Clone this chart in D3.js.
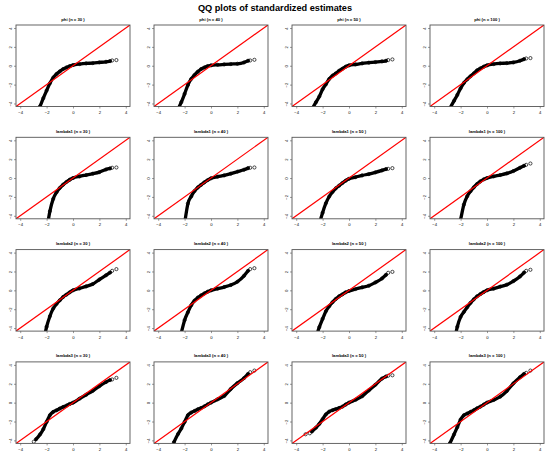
<!DOCTYPE html>
<html>
<head>
<meta charset="utf-8">
<script src="https://cdn.jsdelivr.net/npm/d3@7"></script>
<style>
  body { margin: 0; background: #fff; }
  text { font-family: "Liberation Sans", Arial, sans-serif; }
</style>
</head>
<body>
<div id="chart"></div>
<script>
// Canvas
let w = 550,
    h = 461;

// Panel grid
const params = ["phi", "lambda1", "lambda2", "lambda3"];
const sizes = [30, 40, 50, 100];
const ticks = [-4, -2, 0, 2, 4];

// Theoretical quantiles (x), shared by all panels
const theoQ = [-3.29, -2.97, -2.81, -2.5, -2.25, -2.0, -1.75, -1.5, -1.25, -1.0, -0.75,
               -0.5, -0.25, 0, 0.5, 1.0, 1.5, 2.0, 2.5, 2.81, 2.97, 3.29];

// Sample quantiles (y)
const phi30  = [-7.0, -5.9, -5.3, -4.3, -3.44, -2.63, -1.86, -1.26, -0.88, -0.6, -0.35, -0.18, -0.04, 0.07, 0.18, 0.25, 0.28, 0.35, 0.42, 0.49, 0.56, 0.6];
const phi40  = [-7.0, -6.0, -5.4, -4.6, -3.86, -2.98, -2.04, -1.4, -0.98, -0.63, -0.35, -0.18, -0.04, 0.04, 0.1, 0.14, 0.18, 0.21, 0.35, 0.53, 0.56, 0.63];
const phi50  = [-6.0, -5.2, -4.6, -3.86, -3.26, -2.49, -1.96, -1.4, -1.05, -0.81, -0.53, -0.32, -0.1, 0.04, 0.14, 0.25, 0.32, 0.39, 0.46, 0.53, 0.6, 0.67];
const phi100 = [-6.0, -5.1, -4.5, -3.72, -3.09, -2.39, -1.82, -1.44, -1.12, -0.81, -0.49, -0.28, -0.1, 0.04, 0.18, 0.25, 0.28, 0.35, 0.53, 0.7, 0.77, 0.81];

const lambda1_30  = [-12, -11, -10, -8.5, -7, -5.5, -3.51, -2.21, -1.51, -1.05, -0.7, -0.42, -0.18, 0, 0.18, 0.32, 0.46, 0.63, 0.91, 1.02, 1.09, 1.12];
const lambda1_40  = [-12, -11, -10, -8.5, -7, -4.8, -2.7, -1.95, -1.38, -1.0, -0.72, -0.45, -0.22, -0.03, 0.14, 0.28, 0.46, 0.67, 0.88, 1.05, 1.09, 1.12];
const lambda1_50  = [-11, -10, -9, -7.5, -5.0, -3.68, -2.67, -1.96, -1.47, -1.09, -0.81, -0.53, -0.28, -0.08, 0.1, 0.28, 0.42, 0.6, 0.81, 0.95, 0.98, 1.05];
const lambda1_100 = [-11, -10, -9, -7.5, -6.0, -4.4, -2.81, -1.93, -1.4, -0.98, -0.63, -0.35, -0.14, 0, 0.18, 0.32, 0.49, 0.74, 1.09, 1.3, 1.4, 1.54];

const lambda2_30  = [-10, -9, -8, -7, -5.5, -3.86, -2.74, -1.93, -1.44, -1.05, -0.7, -0.46, -0.21, 0, 0.21, 0.42, 0.67, 1.15, 1.6, 1.89, 2.07, 2.25];
const lambda2_40  = [-9, -8, -7, -6, -4.5, -3.16, -2.32, -1.58, -1.09, -0.77, -0.53, -0.32, -0.14, 0, 0.18, 0.35, 0.56, 0.91, 1.54, 2.07, 2.25, 2.35];
const lambda2_50  = [-9, -8, -7, -5.0, -3.9, -3.02, -2.21, -1.68, -1.26, -0.91, -0.63, -0.42, -0.21, -0.07, 0.14, 0.32, 0.49, 0.84, 1.26, 1.65, 1.86, 1.96];
const lambda2_100 = [-9, -8, -7, -5.5, -3.86, -2.81, -2.28, -1.79, -1.33, -0.95, -0.63, -0.39, -0.18, 0, 0.18, 0.39, 0.6, 0.98, 1.47, 1.89, 2.07, 2.18];

const lambda3_30  = [-5.0, -4.14, -3.89, -3.37, -2.81, -2.04, -1.33, -0.98, -0.81, -0.63, -0.46, -0.32, -0.14, 0, 0.42, 0.84, 1.26, 1.75, 2.18, 2.39, 2.46, 2.63];
const lambda3_40  = [-5.0, -4.6, -4.2, -3.33, -2.74, -2.04, -1.33, -1.05, -0.88, -0.7, -0.56, -0.39, -0.18, 0, 0.35, 0.7, 1.45, 2.07, 2.6, 3.05, 3.23, 3.4];
const lambda3_50  = [-3.35, -3.25, -3.05, -2.65, -2.25, -1.75, -1.25, -0.95, -0.8, -0.68, -0.56, -0.42, -0.2, 0, 0.3, 0.68, 1.3, 1.9, 2.55, 2.78, 2.85, 2.9];
const lambda3_100 = [-5.5, -4.9, -4.3, -3.37, -2.6, -1.79, -1.33, -1.16, -0.98, -0.81, -0.6, -0.42, -0.21, 0, 0.28, 0.63, 1.23, 2.04, 2.7, 3.05, 3.16, 3.4];

const samples = [
  [phi30, phi40, phi50, phi100],
  [lambda1_30, lambda1_40, lambda1_50, lambda1_100],
  [lambda2_30, lambda2_40, lambda2_50, lambda2_100],
  [lambda3_30, lambda3_40, lambda3_50, lambda3_100]
];

// Panel box geometry
let left0 = 16, colStep = 138, top0 = 25, rowStep = 112.3;
let bw = 114, bh = 81.5;

let x = d3.scaleLinear().domain([-4.32, 4.32]).range([0, bw]);
let y = d3.scaleLinear().domain([-4.32, 4.32]).range([bh, 0]);

let svg = d3.select("#chart")
  .append("svg")
  .attr("width", w)
  .attr("height", h)
  .attr("viewBox", [0, 0, w, h]);

// Main title
svg.append("text")
  .attr("x", w / 2)
  .attr("y", 11)
  .attr("text-anchor", "middle")
  .attr("font-size", 9.2)
  .attr("font-weight", "bold")
  .text("QQ plots of standardized estimates");

let defs = svg.append("defs");
defs.append("clipPath")
  .attr("id", "box")
  .append("rect")
  .attr("width", bw)
  .attr("height", bh);

let band = d3.line()
  .x((d) => x(d[0]))
  .y((d) => y(d[1]))
  .curve(d3.curveMonotoneX);

params.forEach((p, r) => {
  sizes.forEach((n, c) => {
    let pts = theoQ.map((q, i) => [q, samples[r][c][i]]);
    let g = svg.append("g")
      .attr("transform", `translate(${left0 + c * colStep},${top0 + r * rowStep})`);

    // panel title
    g.append("text")
      .attr("x", bw / 2)
      .attr("y", -4.5)
      .attr("text-anchor", "middle")
      .attr("font-size", 4.2)
      .attr("font-weight", "bold")
      .text(`${p} (n = ${n} )`);

    let plot = g.append("g").attr("clip-path", "url(#box)");

    // dense middle of the sample
    plot.append("path")
      .attr("d", band(pts.slice(2, pts.length - 2)))
      .attr("fill", "none")
      .attr("stroke", "#000")
      .attr("stroke-width", 3.3)
      .attr("stroke-linecap", "round");

    plot.append("g")
      .selectAll("circle")
      .data(pts)
      .join("circle")
      .attr("cx", (d) => x(d[0]))
      .attr("cy", (d) => y(d[1]))
      .attr("r", 1.6)
      .attr("fill", "none")
      .attr("stroke", "#000")
      .attr("stroke-width", 0.7);

    // reference line y = x
    plot.append("line")
      .attr("x1", x(-4.32)).attr("y1", y(-4.32))
      .attr("x2", x(4.32)).attr("y2", y(4.32))
      .attr("stroke", "#f00")
      .attr("stroke-width", 1.2);

    // box
    g.append("rect")
      .attr("width", bw)
      .attr("height", bh)
      .attr("fill", "none")
      .attr("stroke", "#555")
      .attr("stroke-width", 0.9);

    // x axis
    let xa = g.append("g")
      .attr("transform", `translate(0,${bh})`)
      .call(d3.axisBottom(x).tickValues(ticks).tickSize(2).tickPadding(2.5).tickFormat(d3.format("d")));
    xa.select(".domain").remove();
    xa.selectAll("line").attr("stroke", "#555").attr("stroke-width", 0.6);
    xa.selectAll("text").attr("font-size", 4.2).attr("font-family", "Liberation Sans, Arial, sans-serif");

    // y axis with labels parallel to the axis
    let ya = g.append("g")
      .call(d3.axisLeft(y).tickValues(ticks).tickSize(2).tickFormat(d3.format("d")));
    ya.select(".domain").remove();
    ya.selectAll("line").attr("stroke", "#555").attr("stroke-width", 0.6);
    ya.selectAll("text")
      .attr("font-size", 4.2)
      .attr("font-family", "Liberation Sans, Arial, sans-serif")
      .attr("text-anchor", "middle")
      .attr("x", 0).attr("dy", 0)
      .attr("transform", "translate(-4.5,0) rotate(-90)");
  });
});
</script>
</body>
</html>
